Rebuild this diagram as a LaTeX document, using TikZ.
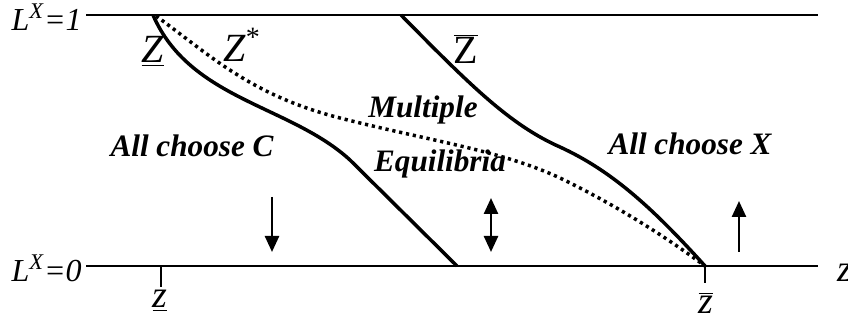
\documentclass[tikz,border=0pt]{standalone}
\usepackage{fontspec}
\setmainfont{Liberation Serif}
\usetikzlibrary{arrows.meta}
\tikzset{
  % Boundary curve between regions
  bound/.style={line width=1.75pt, line join=round},
  % Interior (unstable) equilibrium, dotted
  eqm/.style={line width=1.75pt, dash pattern=on 1.6pt off 1.9pt},
  % Horizontal level line
  level/.style={line width=1.4pt},
  % Small tick under the axis
  tickmark/.style={line width=0.7pt},
  % Direction of adjustment
  dyn/.style={-{Triangle[length=8pt,width=7pt]}, line width=1.25pt},
  dynboth/.style={{Triangle[length=8pt,width=7pt]}-{Triangle[length=8pt,width=7pt]}, line width=1.25pt},
  % Region label
  region/.style={anchor=base, inner sep=0pt, font=\fontsize{15.6}{17}\selectfont\bfseries\itshape},
  % Level label
  lvl/.style={anchor=base east, inner sep=0pt, font=\fontsize{16}{18}\selectfont\itshape},
  % Curve label
  crv/.style={anchor=base, inner sep=0pt, font=\fontsize{20}{22}\selectfont},
  % Tick label
  tlbl/.style={anchor=base, inner sep=0pt, font=\fontsize{19}{21}\selectfont}
}

\begin{document}
\begin{tikzpicture}[x=0.5pt, y=-0.5pt]

  \useasboundingbox (0,0) rectangle (848,320);

  % level lines
  \coordinate (topL) at (86,15);
  \coordinate (topR) at (818,15);
  \coordinate (botL) at (86,266);
  \coordinate (botR) at (818,266);
  \draw[level] (topL) -- (topR);
  \draw[level] (botL) -- (botR);

  \node[lvl] (one)  at (82,31)  {L\textsuperscript{X}=1};
  \node[lvl] (zero) at (82,282) {L\textsuperscript{X}=0};

  % boundaries
  \coordinate (zlTop) at (153,15);
  \coordinate (zlBot) at (457,266);
  \coordinate (zhTop) at (401,15);
  \coordinate (zhBot) at (705,266);
  \coordinate (zsTop) at (156,16);

  \draw[bound] (zlTop) .. controls (190,100) and (290,105) .. (350,160) -- (zlBot);
  \draw[bound] (zhTop) .. controls (470,85) and (510,125) .. (560,147)
                       .. controls (610,170) and (650,205) .. (zhBot);
  \draw[eqm]   (zsTop) .. controls (210,55) and (250,95) .. (340,118)
                       .. controls (430,141) and (500,150) .. (560,178)
                       .. controls (620,207) and (670,240) .. (zhBot);

  \node[crv] (Zlow)  at (153,63) {\underline{\textit{Z}}};
  \node[crv] (Zstar) at (242,62) {\textit{Z}\textsuperscript{*}};
  \node[crv] (Zhigh) at (466,64) {\(\overline{\hbox{Z}}\)};

  % regions
  \node[region] (allC)  at (192,157) {All choose C};
  \node[region] (multi) at (423,118) {Multiple};
  \node[region] (equil) at (440,172) {Equilibria};
  \node[region] (allX)  at (690,155) {All choose X};

  % adjustment arrows
  \coordinate (dA) at (272,197);
  \coordinate (dB) at (272,252);
  \coordinate (mA) at (491,198);
  \coordinate (mB) at (491,252);
  \coordinate (uA) at (739,252);
  \coordinate (uB) at (739,201);
  \draw[dyn]     (dA) -- (dB);
  \draw[dynboth] (mA) -- (mB);
  \draw[dyn]     (uA) -- (uB);

  % ticks on the z axis
  \coordinate (tlA) at (161,266);
  \coordinate (tlB) at (161,287);
  \coordinate (thB) at (705,283);
  \draw[tickmark] (tlA) -- (tlB);
  \draw[tickmark] (zhBot) -- (thB);

  \node[tlbl] (zlow)  at (160,308) {\underline{\textit{z}}};
  \node[tlbl] (zhigh) at (706,314) {\(\overline{\hbox{\textit{z}}}\)};
  \node[anchor=base west, inner sep=0pt, font=\fontsize{19}{21}\selectfont\itshape] (zaxis) at (837,282) {z};

\end{tikzpicture}
\end{document}
